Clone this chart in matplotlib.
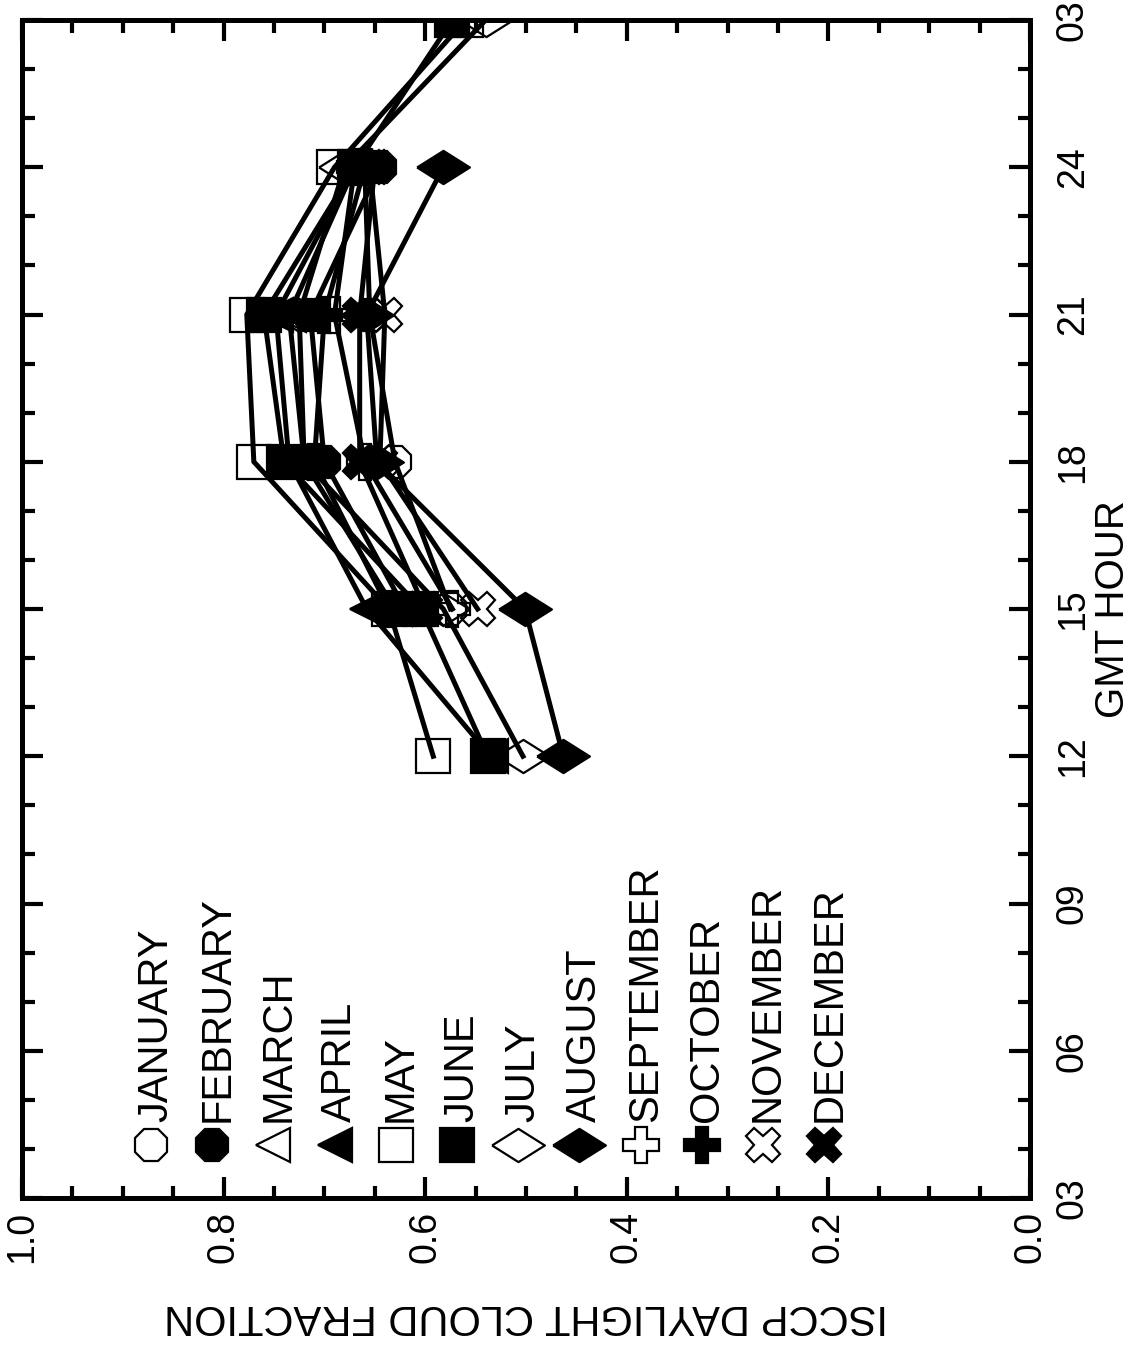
import numpy as np
import matplotlib
matplotlib.use("Agg")
import matplotlib.pyplot as plt
from matplotlib.ticker import MultipleLocator

plt.rcParams["font.family"] = ["Liberation Sans", "DejaVu Sans"]

# GMT hour of each observation (27 = 03 of the following day)
hours = [12, 15, 18, 21, 24, 27]
months = ["JANUARY", "FEBRUARY", "MARCH", "APRIL", "MAY", "JUNE", "JULY",
          "AUGUST", "SEPTEMBER", "OCTOBER", "NOVEMBER", "DECEMBER"]
nan = np.nan
jan = [nan, 0.575, 0.630, 0.655, 0.660, nan]
feb = [nan, 0.620, 0.700, 0.714, 0.645, nan]
mar = [nan, 0.630, 0.720, 0.735, 0.670, nan]
apr = [0.535, 0.658, 0.735, 0.748, 0.670, nan]
may = [0.592, 0.636, 0.770, 0.777, 0.690, 0.560]
jun = [0.538, 0.604, 0.740, 0.760, 0.670, 0.573]
jul = [0.503, 0.582, 0.720, 0.725, 0.680, 0.540]
aug = [0.463, 0.501, 0.648, 0.658, 0.582, nan]
sep = [nan, 0.573, 0.660, 0.690, 0.670, nan]
octo = [nan, 0.636, 0.710, 0.700, 0.660, nan]
nov = [nan, 0.548, 0.645, 0.640, 0.655, nan]
dec = [nan, 0.600, 0.665, 0.665, 0.650, nan]
series = [jan, feb, mar, apr, may, jun, jul, aug, sep, octo, nov, dec]

hour_ticks = [3, 6, 9, 12, 15, 18, 21, 24, 27]
hour_labels = ["03", "06", "09", "12", "15", "18", "21", "24", "03"]
frac_ticks = [0.0, 0.2, 0.4, 0.6, 0.8, 1.0]
frac_labels = ["0.0", "0.2", "0.4", "0.6", "0.8", "1.0"]

# wide flat diamond (page is turned, so the diamond lies on its side)
diamond = [(-1, 0), (0, 0.63), (1, 0), (0, -0.63), (-1, 0)]
styles = [
    ("8", False, 25), ("8", True, 25),
    ("<", False, 25), ("<", True, 25),
    ("s", False, 24), ("s", True, 24),
    (diamond, False, 38), (diamond, True, 38),
    ("P", False, 26), ("P", True, 26),
    ("X", False, 25), ("X", True, 25),
]

W, H = 1132, 1353
fig = plt.figure(figsize=(W / 100, H / 100), dpi=100)
x0, x1, y0, y1 = 22, 1030, 20, 1198
ax = fig.add_axes([x0 / W, 1 - y1 / H, (x1 - x0) / W, (y1 - y0) / H])

for vals, (mk, filled, ms) in zip(series, styles):
    ax.plot(vals, hours, color="black", lw=3.6, marker=mk, ms=ms,
            mec="black", mew=1.6, mfc="black" if filled else "none",
            solid_joinstyle="miter")

ax.set_xlim(1.0, 0.0)
ax.set_ylim(3, 27)
ax.set_xticks(frac_ticks)
ax.set_xticklabels(frac_labels, rotation=90)
ax.set_yticks(hour_ticks)
ax.set_yticklabels(hour_labels, rotation=90, va="center")
ax.xaxis.set_minor_locator(MultipleLocator(0.05))
ax.yaxis.set_minor_locator(MultipleLocator(1))
ax.tick_params(which="both", direction="in", top=True, bottom=True,
               left=True, right=True, labelleft=False, labelright=True,
               width=3, colors="black")
ax.tick_params(which="major", length=15, labelsize=27)
ax.tick_params(which="minor", length=9)
ax.tick_params(axis="x", which="major", pad=9)
ax.tick_params(axis="y", which="major", pad=18)
for sp in ax.spines.values():
    sp.set_linewidth(3.6)

ax.yaxis.set_label_position("right")
ax.set_ylabel("GMT HOUR", fontsize=29, rotation=90, labelpad=2)
ax.set_xlabel("ISCCP DAYLIGHT CLOUD FRACTION", fontsize=30, rotation=180,
              labelpad=24)

# key: one column per month, marker below, name running upward
kx0, kdx = (151 - x0) / (x1 - x0), 61.2 / (x1 - x0)
ky_mark = (y1 - 1145) / (y1 - y0)
ky_text = (y1 - 1122) / (y1 - y0)
for i, (name, (mk, filled, ms)) in enumerate(zip(months, styles)):
    kx = kx0 + i * kdx
    ax.plot([kx], [ky_mark], transform=ax.transAxes, marker=mk, ms=ms,
            mec="black", mew=1.6, mfc="black" if filled else "none",
            ls="none", clip_on=False)
    ax.text(kx + 0.005, ky_text, name, transform=ax.transAxes, rotation=90,
            ha="center", va="bottom", fontsize=30)

fig.savefig("out.png", dpi=100)
